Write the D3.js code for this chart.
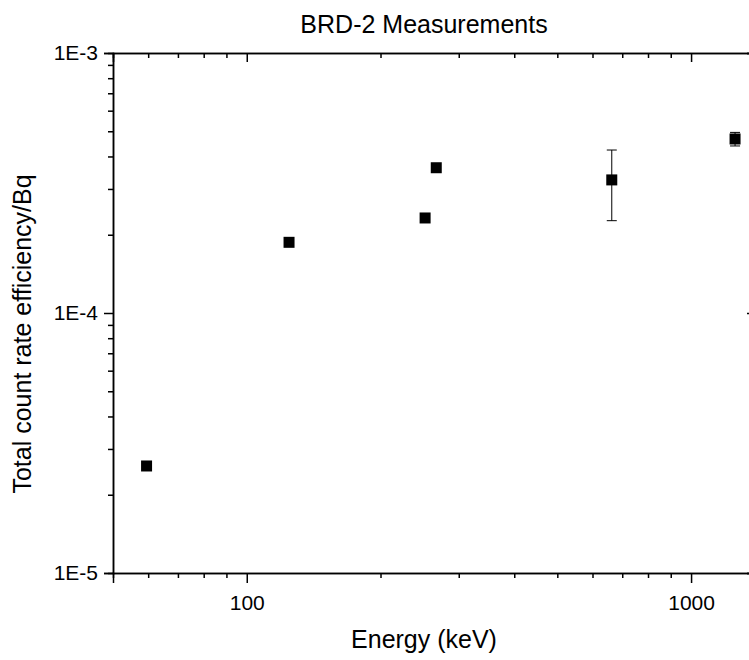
<!DOCTYPE html>
<html>
<head>
<meta charset="utf-8">
<script src="https://cdn.jsdelivr.net/npm/d3@7"></script>
<style>
  html, body { margin: 0; padding: 0; background: #fff; }
  svg { display: block; }
  text { font-family: "Liberation Sans", Arial, sans-serif; fill: #000; }
</style>
</head>
<body>
<svg id="chart" width="749" height="660"></svg>
<script>
// Data
const energy     = [59.5, 124.5, 252, 267, 663, 1256];            // keV
const efficiency = [2.58e-5, 1.87e-4, 2.32e-4, 3.62e-4, 3.25e-4, 4.67e-4];
const errorBar   = [0, 0, 0, 0, 0.985e-4, 0.28e-4];

const xMajorTicks = [100, 1000];
const xMinorTicks = [60, 70, 80, 90, 200, 300, 400, 500, 600, 700, 800, 900];
const yMajorTicks = [1e-5, 1e-4, 1e-3];
const yMinorTicks = [2e-5,3e-5,4e-5,5e-5,6e-5,7e-5,8e-5,9e-5,2e-4,3e-4,4e-4,5e-4,6e-4,7e-4,8e-4,9e-4];
const yTickLabels = ["1E-5", "1E-4", "1E-3"];

const titleText = "BRD-2 Measurements";
const xTitle = "Energy (keV)";
const yTitle = "Total count rate efficiency/Bq";

const margin = {left: 113, top: 53, right: 756, bottom: 573};

const svg = d3.select("#chart");
const x = d3.scaleLog().domain([50, 1400]).range([margin.left, margin.right]);
const y = d3.scaleLog().domain([1e-5, 1e-3]).range([margin.bottom, margin.top]);

const fmtY = v => yTickLabels[yMajorTicks.findIndex(t => Math.abs(Math.log10(t) - Math.log10(v)) < 1e-6)];

function styleAxis(g, fontSize) {
  g.selectAll(".domain").attr("stroke", "#000").attr("stroke-width", 1.5);
  g.selectAll(".tick line").attr("stroke", "#000").attr("stroke-width", 1.5);
  g.selectAll(".tick text").style("font-size", fontSize + "px").style("font-family", '"Liberation Sans", Arial, sans-serif').attr("fill", "#000");
}

const tickFont = 21;

// Bottom axis
const gB = svg.append("g").attr("transform", `translate(0,${margin.bottom})`);
gB.append("g").call(d3.axisBottom(x).tickValues(xMinorTicks).tickSize(5).tickFormat("")).call(g => styleAxis(g, tickFont));
gB.append("g").call(d3.axisBottom(x).tickValues(xMajorTicks).tickSize(10).tickPadding(12).tickFormat(d3.format("d"))).call(g => styleAxis(g, tickFont));

// Top axis (ticks inward)
const gT = svg.append("g").attr("transform", `translate(0,${margin.top})`);
gT.append("g").call(d3.axisTop(x).tickValues(xMinorTicks).tickSize(-5).tickFormat("")).call(g => styleAxis(g, tickFont));
gT.append("g").call(d3.axisTop(x).tickValues(xMajorTicks).tickSize(-9).tickFormat("")).call(g => styleAxis(g, tickFont));

// Left axis
const gL = svg.append("g").attr("transform", `translate(${margin.left},0)`);
gL.append("g").call(d3.axisLeft(y).tickValues(yMinorTicks).tickSize(5).tickFormat("")).call(g => styleAxis(g, tickFont));
gL.append("g").call(d3.axisLeft(y).tickValues(yMajorTicks).tickSize(9).tickPadding(6).tickFormat(fmtY)).call(g => styleAxis(g, tickFont));

// Right axis (ticks inward)
const gR = svg.append("g").attr("transform", `translate(${margin.right},0)`);
gR.append("g").call(d3.axisRight(y).tickValues(yMinorTicks).tickSize(-5).tickFormat("")).call(g => styleAxis(g, tickFont));
gR.append("g").call(d3.axisRight(y).tickValues(yMajorTicks).tickSize(-9).tickFormat("")).call(g => styleAxis(g, tickFont));

// Data
const data = energy.map((e, i) => ({e, v: efficiency[i], err: errorBar[i]}));

const eb = svg.append("g").selectAll("g").data(data.filter(d => d.err > 0)).join("g");
eb.append("line")
  .attr("x1", d => x(d.e)).attr("x2", d => x(d.e))
  .attr("y1", d => y(d.v + d.err)).attr("y2", d => y(d.v - d.err))
  .attr("stroke", "#000").attr("stroke-width", 1);
eb.append("line")
  .attr("x1", d => x(d.e) - 5).attr("x2", d => x(d.e) + 5)
  .attr("y1", d => y(d.v + d.err)).attr("y2", d => y(d.v + d.err))
  .attr("stroke", "#000").attr("stroke-width", 1);
eb.append("line")
  .attr("x1", d => x(d.e) - 5).attr("x2", d => x(d.e) + 5)
  .attr("y1", d => y(d.v - d.err)).attr("y2", d => y(d.v - d.err))
  .attr("stroke", "#000").attr("stroke-width", 1);

const ms = 11;
svg.append("g").selectAll("rect").data(data).join("rect")
  .attr("x", d => x(d.e) - ms / 2)
  .attr("y", d => y(d.v) - ms / 2)
  .attr("width", ms).attr("height", ms)
  .attr("fill", "#000");

// Titles
svg.append("text").attr("x", 424).attr("y", 33).attr("text-anchor", "middle")
  .style("font-size", "25px").text(titleText);
svg.append("text").attr("x", 424).attr("y", 648).attr("text-anchor", "middle")
  .style("font-size", "25px").text(xTitle);
svg.append("text").attr("transform", `translate(31,334) rotate(-90)`)
  .attr("text-anchor", "middle").style("font-size", "25px").text(yTitle);
</script>
</body>
</html>
